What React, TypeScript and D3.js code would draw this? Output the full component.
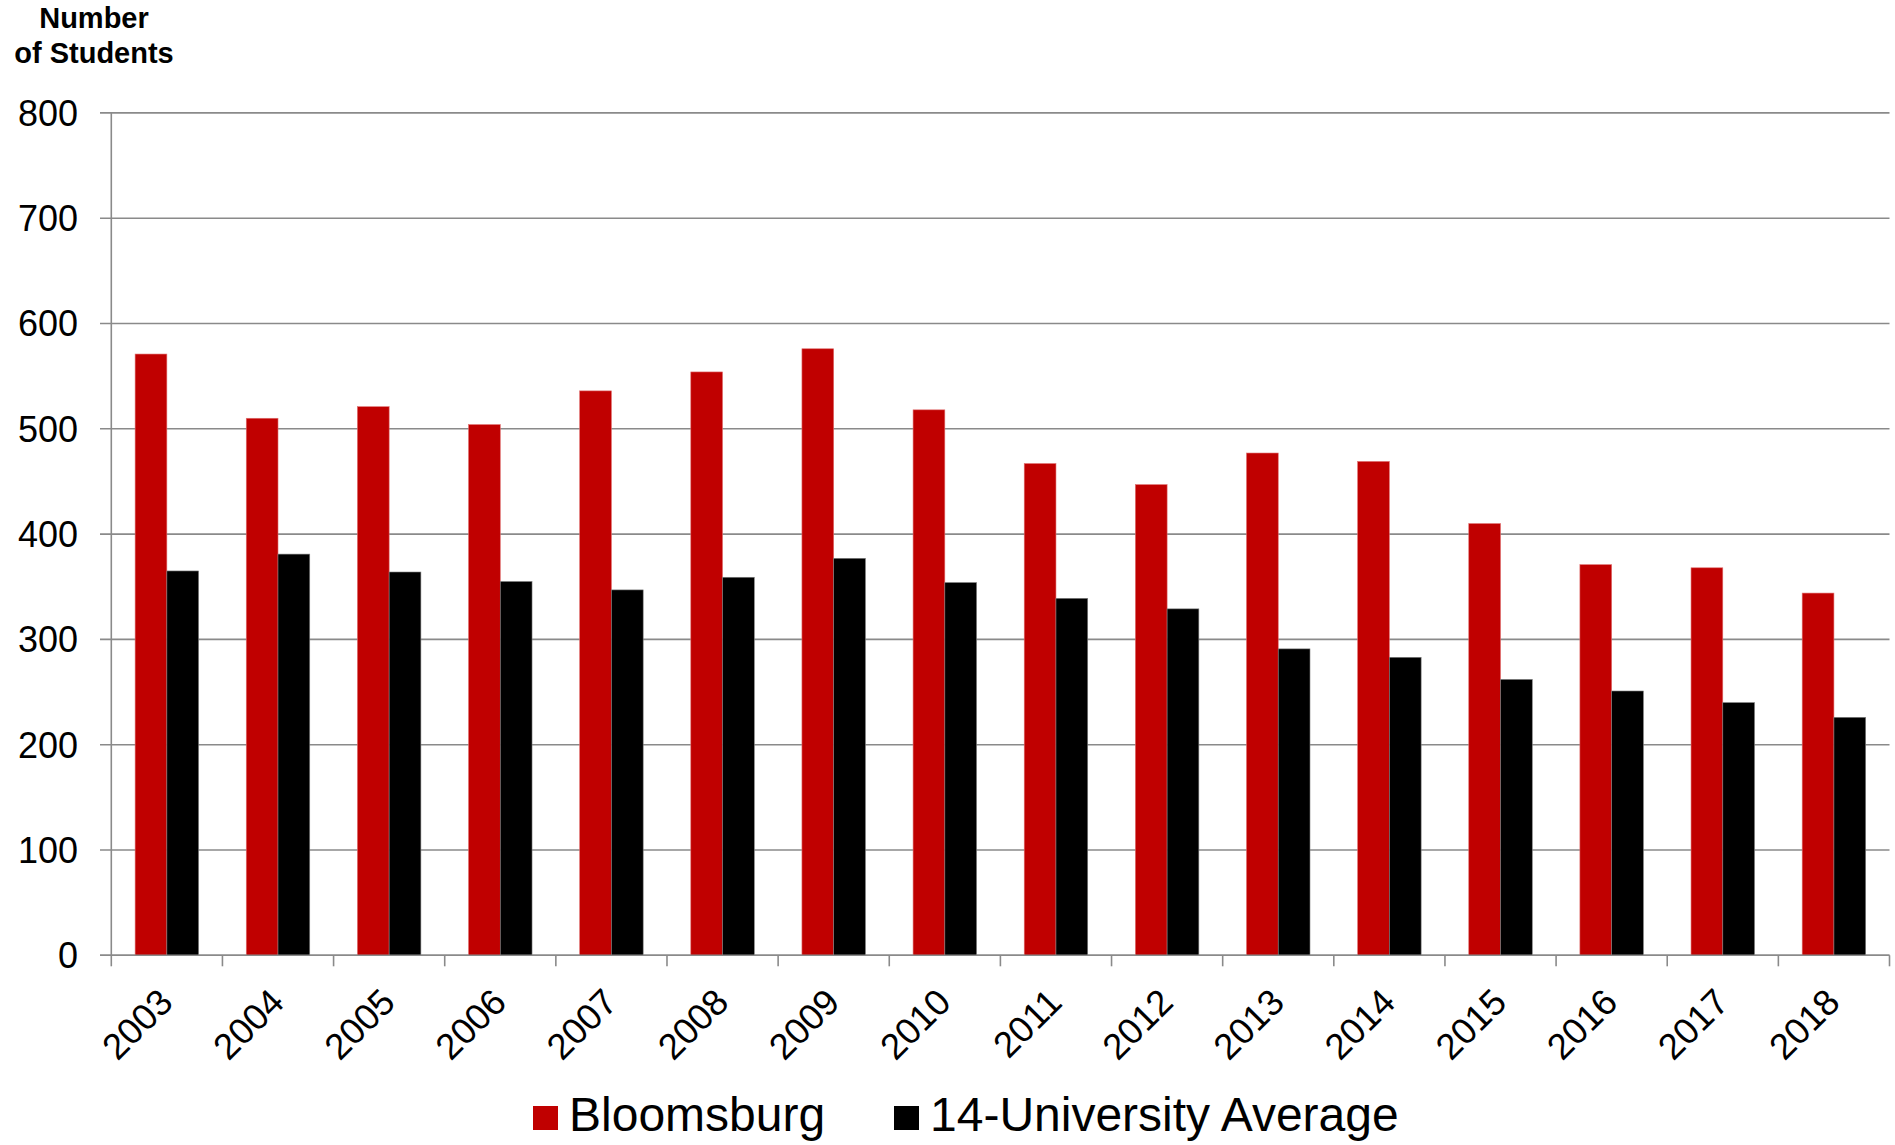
import { useMemo } from "react";
import * as d3 from "d3";

const years = [
  "2003", "2004", "2005", "2006", "2007", "2008", "2009", "2010",
  "2011", "2012", "2013", "2014", "2015", "2016", "2017", "2018",
];
const bloomsburg = [571, 510, 521, 504, 536, 554, 576, 518, 467, 447, 477, 469, 410, 371, 368, 344];
const universityAvg = [365, 381, 364, 355, 347, 359, 377, 354, 339, 329, 291, 283, 262, 251, 240, 226];
const seriesNames = ["Bloomsburg", "14-University Average"];
const seriesColors = ["#c00000", "#000000"];
const yTicks = [0, 100, 200, 300, 400, 500, 600, 700, 800];

const W = 1895;
const H = 1145;
const FONT = "'Liberation Sans', Arial, sans-serif";
const GRID = "#8a8a8a";

export default function App() {
  const left = 111.3;
  const right = 1889.5;
  const top = 112.9;
  const bottom = 955.3;

  const x = useMemo(
    () => d3.scaleBand<string>().domain(years).range([left, right]).padding(0),
    []
  );
  const xs = useMemo(
    () =>
      d3
        .scaleBand<string>()
        .domain(seriesNames)
        .range([0, x.bandwidth()])
        .paddingInner(0)
        .paddingOuter(0.75),
    [x]
  );
  const y = useMemo(() => d3.scaleLinear().domain([0, 800]).range([bottom, top]), []);

  const rows = years.map((yr, i) => ({ year: yr, values: [bloomsburg[i], universityAvg[i]] }));
  const boundaries = years.map((yr) => x(yr) as number).concat([right]);

  return (
    <div style={{ position: "absolute", left: 0, top: 0 }}>
      <svg width={W} height={H} style={{ display: "block", background: "#fff" }}>
        {/* axis title */}
        <g fontFamily={FONT} fontWeight="bold" fontSize={29} textAnchor="middle" fill="#000">
          <text x={94} y={28}>Number</text>
          <text x={94} y={63}>of Students</text>
        </g>

        {/* gridlines + y labels */}
        {yTicks.map((t) => (
          <g key={t}>
            <line x1={100} x2={right} y1={y(t)} y2={y(t)} stroke={GRID} strokeWidth={1.6} />
            <text
              x={78}
              y={y(t)}
              dy="0.36em"
              textAnchor="end"
              fontFamily={FONT}
              fontSize={36}
              fill="#000"
            >
              {t}
            </text>
          </g>
        ))}

        {/* y axis line */}
        <line x1={left} x2={left} y1={top} y2={bottom} stroke={GRID} strokeWidth={1.6} />

        {/* bars */}
        {rows.map((r) => (
          <g key={r.year} transform={`translate(${x(r.year)},0)`}>
            {r.values.map((v, j) => (
              <rect
                key={j}
                x={xs(seriesNames[j])}
                y={y(v)}
                width={xs.bandwidth()}
                height={bottom - y(v)}
                fill={seriesColors[j]}
                stroke={j === 0 ? "#e07070" : "#808080"}
                strokeWidth={0.6}
              />
            ))}
          </g>
        ))}

        {/* x axis line and ticks */}
        <line x1={100} x2={right} y1={bottom} y2={bottom} stroke={GRID} strokeWidth={1.6} />
        {boundaries.map((bx, i) => (
          <line key={i} x1={bx} x2={bx} y1={bottom} y2={bottom + 11} stroke={GRID} strokeWidth={1.6} />
        ))}

        {/* x labels */}
        {years.map((yr) => {
          const cx = (x(yr) as number) + x.bandwidth() / 2;
          return (
            <text
              key={yr}
              transform={`translate(${cx + 8},${bottom + 49}) rotate(-45)`}
              textAnchor="end"
              fontFamily={FONT}
              fontSize={36.5}
              fill="#000"
            >
              {yr}
            </text>
          );
        })}

        {/* legend */}
        <g fontFamily={FONT} fontSize={48} fill="#000">
          <rect x={533} y={1106} width={25} height={24} fill={seriesColors[0]} />
          <text x={569} y={1131}>{seriesNames[0]}</text>
          <rect x={894} y={1106} width={25} height={24} fill={seriesColors[1]} />
          <text x={930} y={1131}>{seriesNames[1]}</text>
        </g>
      </svg>
    </div>
  );
}
